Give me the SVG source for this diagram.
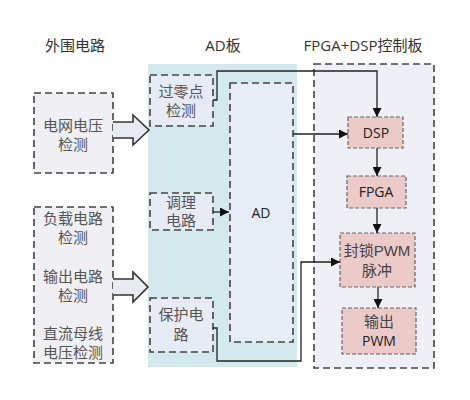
<svg xmlns="http://www.w3.org/2000/svg" width="470" height="400" viewBox="0 0 470 400">
<defs>
<style>
.t{font-family:"Liberation Sans","Noto Sans CJK SC",sans-serif;font-size:15px;fill:#555;text-anchor:middle}
.e{font-family:"Open Sans","Noto Sans CJK SC",sans-serif;font-size:14px;fill:#222;text-anchor:middle}
.title{font-family:"Open Sans","Noto Sans CJK SC",sans-serif;font-size:15px;fill:#333;text-anchor:middle}
.db{stroke:#444;stroke-width:1.6;stroke-dasharray:7,4}
.pk{fill:#eccac8;stroke:#666;stroke-width:1.2;stroke-dasharray:4,2}
.ln{fill:none;stroke:#222;stroke-width:1.3}
.big{fill:#e6eaf3;stroke:#333;stroke-width:1.6}
</style>
<marker id="ar" viewBox="0 0 10 10" refX="10" refY="5" markerWidth="9" markerHeight="9" markerUnits="userSpaceOnUse" orient="auto">
<path d="M0,0 L10,5 L0,10 z" fill="#111"/>
</marker>
</defs>
<rect width="470" height="400" fill="#fff"/>
<text class="title" x="75" y="51">外围电路</text>
<text class="title" x="223" y="51">AD板</text>
<text class="title" x="363" y="51">FPGA+DSP控制板</text>

<g id="ad-board">
<rect x="148" y="64" width="149" height="303" fill="#d4e9ee"/>
</g>
<g id="ctrl-board">
<rect x="314" y="64" width="120" height="304" fill="#eef0f5" class="db"/>
</g>

<g id="grid-detect">
<rect x="34" y="93" width="79" height="80" fill="#efeff4" class="db"/>
<text class="t" x="73" y="131">电网电压</text>
<text class="t" x="73" y="150">检测</text>
</g>
<g id="other-detect">
<rect x="34" y="207" width="79" height="156" fill="#efeff4" class="db"/>
<text class="t" x="73" y="224">负载电路</text>
<text class="t" x="73" y="243">检测</text>
<text class="t" x="73" y="282">输出电路</text>
<text class="t" x="73" y="301">检测</text>
<text class="t" x="73" y="339">直流母线</text>
<text class="t" x="73" y="358">电压检测</text>
</g>

<g id="zero-cross">
<rect x="150" y="75" width="63" height="51" fill="#e6ebf5" class="db"/>
<text class="t" x="181" y="97">过零点</text>
<text class="t" x="181" y="116">检测</text>
</g>
<g id="cond">
<rect x="150" y="193" width="63" height="37" fill="#e6ebf5" class="db"/>
<text class="t" x="181" y="208">调理</text>
<text class="t" x="181" y="226">电路</text>
</g>
<g id="protect">
<rect x="150" y="298" width="63" height="54" fill="#e6ebf5" class="db"/>
<text class="t" x="181" y="320">保护电</text>
<text class="t" x="181" y="340">路</text>
</g>
<g id="ad">
<rect x="230" y="83" width="63" height="259" fill="#e7edf6" class="db"/>
<text class="e" x="261" y="218">AD</text>
</g>

<g id="dsp">
<rect x="348" y="117" width="55" height="31" class="pk"/>
<text class="e" x="376" y="138">DSP</text>
</g>
<g id="fpga">
<rect x="347" y="176" width="59" height="32" class="pk"/>
<text class="e" x="376" y="197">FPGA</text>
</g>
<g id="block-pwm">
<rect x="340" y="233" width="75" height="54" class="pk"/>
<text class="t" x="377" y="256" style="fill:#444">封锁PWM</text>
<text class="t" x="377" y="276" style="fill:#444">脉冲</text>
</g>
<g id="out-pwm">
<rect x="342" y="308" width="74" height="46" class="pk"/>
<text class="t" x="379" y="327" style="fill:#444">输出</text>
<text class="e" x="379" y="346">PWM</text>
</g>

<g id="connectors">
<path class="big" d="M113,122 H133 V115 L149,130 L133,145 V138 H113"/>
<path class="big" d="M113,279 H133 V272 L148,287 L133,302 V295 H113"/>
<path class="ln" d="M213,100 H217 V71 H377 V117" marker-end="url(#ar)"/>
<path class="ln" d="M293,134 H348" marker-end="url(#ar)"/>
<path class="ln" d="M213,212 H229" marker-end="url(#ar)"/>
<path class="ln" d="M377,148 V176" marker-end="url(#ar)"/>
<path class="ln" d="M377,208 V233" marker-end="url(#ar)"/>
<path class="ln" d="M378,287 V308" marker-end="url(#ar)"/>
<path class="ln" d="M213,328 H217 V361 H301 V262 H340" marker-end="url(#ar)"/>
</g>
</svg>
